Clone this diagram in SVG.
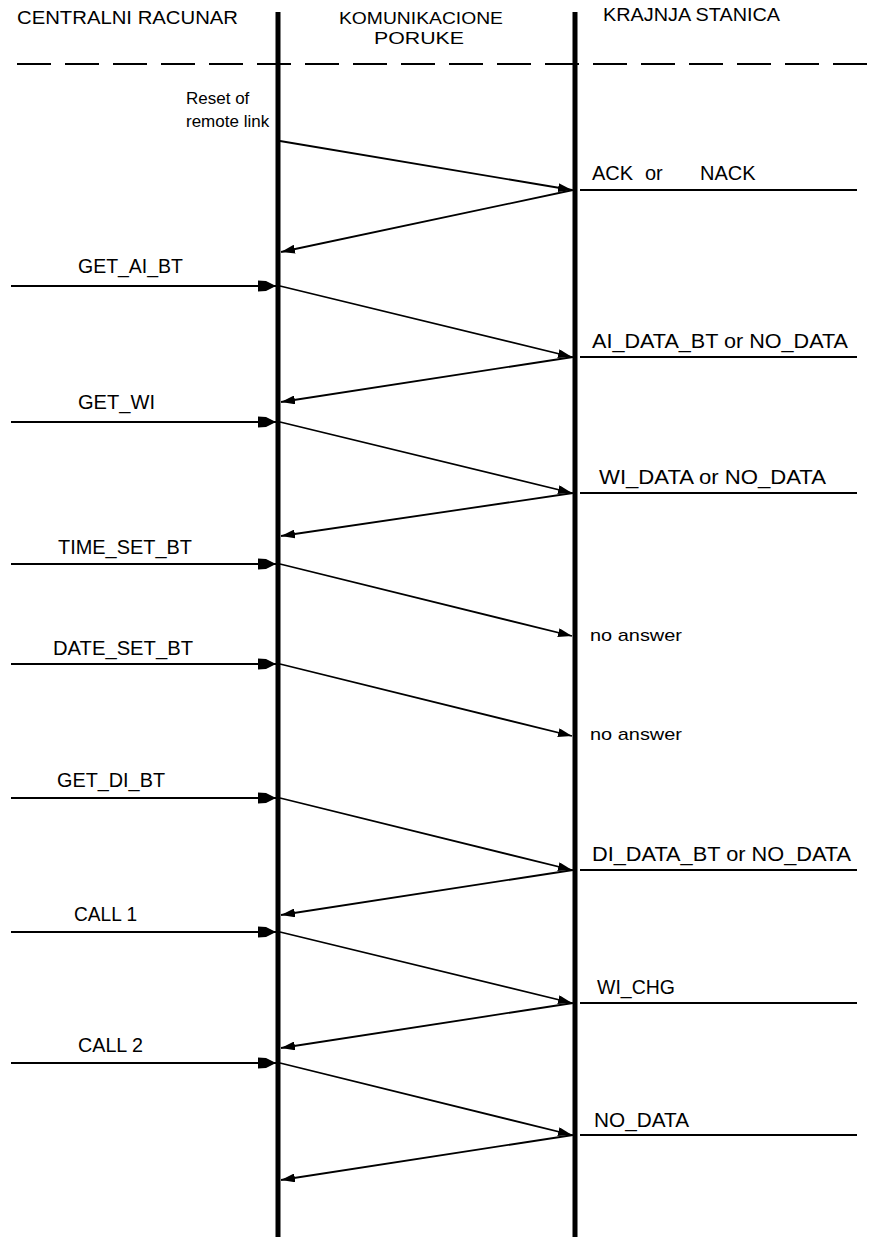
<svg xmlns="http://www.w3.org/2000/svg" width="879" height="1237" viewBox="0 0 879 1237">
<style>
text{font-family:"Liberation Sans Narrow","Liberation Sans",Arial,sans-serif;fill:#000}
.cap{font-size:20px}
.hdr{font-size:18px}
.hdr2{font-size:17px}
.low{font-family:"Liberation Sans",Arial,sans-serif;font-size:17px}
.life{stroke:#000;stroke-width:5;fill:none}
.msg{stroke:#000;stroke-width:1.8;fill:none}
.sm{marker-end:url(#as)}
.bg{marker-end:url(#ab)}
</style>
<defs>
<marker id="as" markerUnits="userSpaceOnUse" viewBox="0 0 14 9" refX="14" refY="4.5" markerWidth="14" markerHeight="9" orient="auto">
<path d="M0,0 L14,4.5 L0,9 Z" fill="#000"/>
</marker>
<marker id="ab" markerUnits="userSpaceOnUse" viewBox="0 0 18 12" refX="18" refY="6" markerWidth="18" markerHeight="12" orient="auto">
<path d="M0,0.5 L8,1 L18,6 L8,11 L0,11.5 Z" fill="#000"/>
</marker>
</defs>
<rect width="879" height="1237" fill="#fff"/>

<g id="header">
<text class="hdr" x="17" y="24" textLength="221" lengthAdjust="spacingAndGlyphs">CENTRALNI RACUNAR</text>
<text class="hdr2" x="339" y="24" textLength="164" lengthAdjust="spacingAndGlyphs">KOMUNIKACIONE</text>
<text class="hdr2" x="374" y="44" textLength="90" lengthAdjust="spacingAndGlyphs">PORUKE</text>
<text class="hdr" x="603" y="21" textLength="177" lengthAdjust="spacingAndGlyphs">KRAJNJA STANICA</text>
<line x1="17" y1="64" x2="879" y2="64" stroke="#000" stroke-width="1.8" stroke-dasharray="34 14"/>
</g>

<g id="lifeline-central"><line class="life" x1="278" y1="12" x2="278" y2="1237"/></g>
<g id="lifeline-station"><line class="life" x1="575" y1="12" x2="575" y2="1237"/></g>

<g id="labels-left">
<text class="low" x="186" y="104">Reset of</text>
<text class="low" x="186" y="127">remote link</text>
<text class="cap" x="78" y="273" textLength="105" lengthAdjust="spacingAndGlyphs">GET_AI_BT</text>
<text class="cap" x="78" y="409" textLength="77" lengthAdjust="spacingAndGlyphs">GET_WI</text>
<text class="cap" x="58" y="554" textLength="134" lengthAdjust="spacingAndGlyphs">TIME_SET_BT</text>
<text class="cap" x="53" y="655" textLength="140" lengthAdjust="spacingAndGlyphs">DATE_SET_BT</text>
<text class="cap" x="57" y="787" textLength="108" lengthAdjust="spacingAndGlyphs">GET_DI_BT</text>
<text class="cap" x="74" y="921" textLength="63" lengthAdjust="spacingAndGlyphs">CALL 1</text>
<text class="cap" x="78" y="1052" textLength="65" lengthAdjust="spacingAndGlyphs">CALL 2</text>
</g>

<g id="labels-right">
<text class="cap" x="592" y="180">ACK</text>
<text class="cap" x="645" y="180">or</text>
<text class="cap" x="700" y="180">NACK</text>
<text class="cap" x="592" y="348" textLength="256" lengthAdjust="spacingAndGlyphs">AI_DATA_BT  or  NO_DATA</text>
<text class="cap" x="599" y="484" textLength="227" lengthAdjust="spacingAndGlyphs">WI_DATA  or  NO_DATA</text>
<text class="low" x="590" y="641" textLength="92" lengthAdjust="spacingAndGlyphs">no answer</text>
<text class="low" x="590" y="740" textLength="92" lengthAdjust="spacingAndGlyphs">no answer</text>
<text class="cap" x="592" y="861" textLength="259" lengthAdjust="spacingAndGlyphs">DI_DATA_BT  or  NO_DATA</text>
<text class="cap" x="597" y="994" textLength="78" lengthAdjust="spacingAndGlyphs">WI_CHG</text>
<text class="cap" x="594" y="1127" textLength="95" lengthAdjust="spacingAndGlyphs">NO_DATA</text>
</g>

<g id="connectors">
<line class="msg bg" x1="11" y1="286" x2="276" y2="286"/>
<line class="msg bg" x1="11" y1="422" x2="276" y2="422"/>
<line class="msg bg" x1="11" y1="564" x2="276" y2="564"/>
<line class="msg bg" x1="11" y1="664" x2="276" y2="664"/>
<line class="msg bg" x1="11" y1="798" x2="276" y2="798"/>
<line class="msg bg" x1="11" y1="932" x2="276" y2="932"/>
<line class="msg bg" x1="11" y1="1063" x2="276" y2="1063"/>
<line class="msg sm" x1="280" y1="141" x2="572" y2="190"/>
<line class="msg sm" x1="280" y1="286" x2="572" y2="357"/>
<line class="msg sm" x1="280" y1="422" x2="572" y2="493"/>
<line class="msg sm" x1="280" y1="564" x2="572" y2="636"/>
<line class="msg sm" x1="280" y1="664" x2="572" y2="736"/>
<line class="msg sm" x1="280" y1="798" x2="572" y2="870"/>
<line class="msg sm" x1="280" y1="932" x2="572" y2="1003"/>
<line class="msg sm" x1="280" y1="1063" x2="572" y2="1135"/>
<line class="msg sm" x1="573" y1="190" x2="281" y2="252"/>
<line class="msg sm" x1="573" y1="357" x2="281" y2="402"/>
<line class="msg sm" x1="573" y1="493" x2="281" y2="536"/>
<line class="msg sm" x1="573" y1="870" x2="281" y2="915"/>
<line class="msg sm" x1="573" y1="1003" x2="281" y2="1048"/>
<line class="msg sm" x1="573" y1="1135" x2="281" y2="1180"/>
<line class="msg" x1="580" y1="190" x2="857" y2="190"/>
<line class="msg" x1="580" y1="357" x2="857" y2="357"/>
<line class="msg" x1="580" y1="493" x2="857" y2="493"/>
<line class="msg" x1="580" y1="870" x2="857" y2="870"/>
<line class="msg" x1="580" y1="1003" x2="857" y2="1003"/>
<line class="msg" x1="580" y1="1135" x2="857" y2="1135"/>
</g>
</svg>
